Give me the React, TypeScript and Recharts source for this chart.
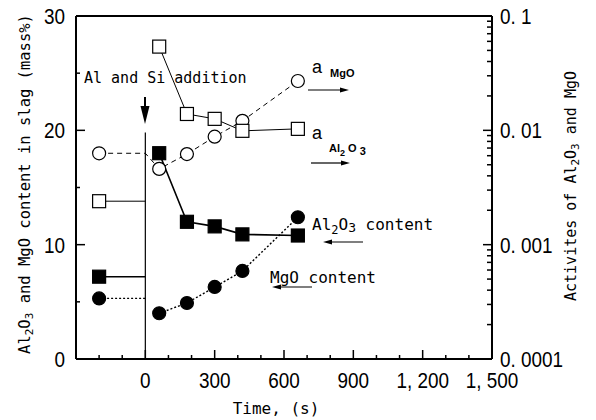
import { ComposedChart, Line, ReferenceLine, XAxis, YAxis } from "recharts"

// times after the Al + Si addition (s)
const times = [60, 180, 300, 420, 660]
const initialTime = -200
const additionTime = 0

// slag content, mass%
const al2o3ContentInitial = 7.2
const al2o3Content = [18.0, 12.0, 11.6, 10.9, 10.8]
const mgoContentInitial = 5.3
const mgoContent = [4.0, 4.9, 6.3, 7.7, 12.4]

// activities (log axis)
const aAl2O3Initial = 0.0024
const aAl2O3 = [0.054, 0.0139, 0.0126, 0.0099, 0.0103]
const aMgOInitial = 0.0063
const aMgO = [0.0046, 0.0062, 0.0088, 0.0121, 0.027]

const timeTicks = [-200, -100, 0, 100, 200, 300, 400, 500, 600, 700, 800, 900, 1000, 1100, 1200, 1300, 1400, 1500]
const timeLabels: Record<number, string> = {
  0: "0",
  300: "300",
  600: "600",
  900: "900",
  1200: "1, 200",
  1500: "1, 500",
}
const contentTicks = [0, 5, 10, 15, 20, 25, 30]
const contentLabels: Record<number, string> = { 0: "0", 10: "10", 20: "20", 30: "30" }
const activityTicks = [
  0.0001, 0.0002, 0.0003, 0.0004, 0.0005, 0.0006, 0.0007, 0.0008, 0.0009,
  0.001, 0.002, 0.003, 0.004, 0.005, 0.006, 0.007, 0.008, 0.009,
  0.01, 0.02, 0.03, 0.04, 0.05, 0.06, 0.07, 0.08, 0.09, 0.1,
]
const activityLabels: Record<string, string> = {
  "0.0001": "0. 0001",
  "0.001": "0. 001",
  "0.01": "0. 01",
  "0.1": "0. 1",
}

type Row = { t: number; v: number | null; bare?: boolean }

// initial value is held flat up to the addition, then the measured points follow
function buildRows(initial: number, values: number[], joined: boolean): Row[] {
  const rows: Row[] = [
    { t: initialTime, v: initial },
    { t: additionTime, v: initial, bare: true },
  ]
  if (!joined) rows.push({ t: additionTime, v: null })
  times.forEach((t, i) => rows.push({ t, v: values[i] }))
  return rows
}

const TICK_FONT = "'Liberation Sans', Arial, sans-serif"
const MONO = "'DejaVu Sans Mono', 'Liberation Mono', monospace"

// narrow tick numerals, like the condensed face of the original
function TickText({ x, y, anchor, children }: any) {
  return (
    <text
      transform={`translate(${x},${y}) scale(0.86,1)`}
      textAnchor={anchor}
      fontSize={22}
      fontFamily={TICK_FONT}
      fill="#000"
    >
      {children}
    </text>
  )
}

function TimeTick({ x, y, payload }: any) {
  const label = timeLabels[payload.value]
  const major = label !== undefined
  return (
    <g>
      <line x1={x} x2={x} y1={y} y2={y - (major ? 9 : 4)} stroke="#000" strokeWidth={1.5} />
      {major && (
        <TickText x={x} y={y + 29} anchor="middle">
          {label}
        </TickText>
      )}
    </g>
  )
}

function ContentTick({ x, y, payload }: any) {
  const label = contentLabels[payload.value]
  const major = label !== undefined
  return (
    <g>
      <line x1={x} x2={x + (major ? 9 : 4)} y1={y} y2={y} stroke="#000" strokeWidth={1.5} />
      {major && (
        <TickText x={x - 11} y={y + 8} anchor="end">
          {label}
        </TickText>
      )}
    </g>
  )
}

function ActivityTick({ x, y, payload }: any) {
  const label = activityLabels[String(payload.value)]
  const major = label !== undefined
  return (
    <g>
      <line x1={x} x2={x - (major ? 9 : 5)} y1={y} y2={y} stroke="#000" strokeWidth={1.5} />
      {major && (
        <TickText x={x + 8} y={y + 8} anchor="start">
          {label}
        </TickText>
      )}
    </g>
  )
}

function makeDot(shape: "square" | "circle", filled: boolean) {
  return (props: any) => {
    const { cx, cy, payload, index } = props
    const key = `${shape}-${filled}-${index}`
    if (cx == null || cy == null || payload?.bare || payload?.v == null) return <g key={key} />
    const fill = filled ? "#000" : "#fff"
    if (shape === "square") {
      return <rect key={key} x={cx - 6.5} y={cy - 6.5} width={13} height={13} fill={fill} stroke="#000" strokeWidth={1.2} />
    }
    return <circle key={key} cx={cx} cy={cy} r={6.5} fill={fill} stroke="#000" strokeWidth={1.2} />
  }
}

function Overlay() {
  return (
    <svg width={596} height={420} style={{ position: "absolute", left: 0, top: 0, pointerEvents: "none" }}>
      <g fontFamily={MONO} fill="#000">
        {/* left axis title */}
        <text transform="translate(25,184) rotate(-90)" textAnchor="middle" dominantBaseline="central" fontSize={15.5}>
          Al<tspan dy={4} fontSize={11}>2</tspan>
          <tspan dy={-4}>O</tspan>
          <tspan dy={4} fontSize={11}>3</tspan>
          <tspan dy={-4}> and MgO content in slag (mass%)</tspan>
        </text>
        {/* right axis title */}
        <text transform="translate(571,186) rotate(-90)" textAnchor="middle" dominantBaseline="central" fontSize={15}>
          Activites of Al<tspan dy={4} fontSize={11}>2</tspan>
          <tspan dy={-4}>O</tspan>
          <tspan dy={4} fontSize={11}>3</tspan>
          <tspan dy={-4}> and MgO</tspan>
        </text>
        <text x={276} y={414} textAnchor="middle" fontSize={16}>
          Time,  (s)
        </text>

        <text x={84} y={83} fontSize={15}>
          Al and Si addition
        </text>
        <line x1={145} x2={145} y1={97} y2={110} stroke="#000" strokeWidth={2} />
        <polygon points="140.5,106 149.5,106 145,124" fill="#000" />

        <text x={312} y={73} fontSize={18} fontFamily="'Liberation Sans', sans-serif">
          a
        </text>
        <text x={330} y={77} fontSize={11} fontWeight="bold" fontFamily="'Liberation Sans', sans-serif">
          MgO
        </text>
        <line x1={308} x2={342} y1={90} y2={90} stroke="#000" strokeWidth={1.2} />
        <polygon points="340,87.5 349,90 340,92.5" fill="#000" />

        <text x={312} y={139} fontSize={18} fontFamily="'Liberation Sans', sans-serif">
          a
        </text>
        <text x={329} y={152} fontSize={11} fontWeight="bold" fontFamily="'Liberation Sans', sans-serif">
          Al<tspan dy={4} fontSize={9}>2</tspan>
          <tspan dy={-4}> O</tspan>
          <tspan dy={3}> 3</tspan>
        </text>
        <line x1={311} x2={343} y1={163} y2={163} stroke="#000" strokeWidth={1.2} />
        <polygon points="341,160.5 350,163 341,165.5" fill="#000" />

        <text x={312} y={230} fontSize={16}>
          Al<tspan dy={4} fontSize={12}>2</tspan>
          <tspan dy={-4}>O</tspan>
          <tspan dy={2} fontSize={13}>3</tspan>
          <tspan dy={-2}> content</tspan>
        </text>
        <line x1={330} x2={363} y1={242} y2={242} stroke="#000" strokeWidth={1.2} />
        <polygon points="332,239.5 323,242 332,244.5" fill="#000" />

        <text x={270} y={283} fontSize={16}>
          MgO content
        </text>
        <line x1={279} x2={312} y1={287} y2={287} stroke="#000" strokeWidth={1.2} />
        <polygon points="281,284.5 272,287 281,289.5" fill="#000" />
      </g>
    </svg>
  )
}

export default function App() {
  return (
    <div style={{ position: "absolute", left: 0, top: 0, width: 596, height: 420, background: "#fff" }}>
      <ComposedChart width={596} height={420} margin={{ top: 16, right: 0, bottom: 0, left: 0 }}>
        <XAxis
          xAxisId="t"
          dataKey="t"
          type="number"
          domain={[-300, 1500]}
          ticks={timeTicks}
          allowDataOverflow
          height={61}
          tickSize={0}
          tickMargin={0}
          tickLine={false}
          axisLine={{ stroke: "#000", strokeWidth: 2 }}
          tick={<TimeTick />}
          interval={0}
        />
        <YAxis
          yAxisId="left"
          type="number"
          domain={[0, 30]}
          ticks={contentTicks}
          allowDataOverflow
          width={76}
          tickSize={0}
          tickMargin={0}
          tickLine={false}
          axisLine={{ stroke: "#000", strokeWidth: 2 }}
          tick={<ContentTick />}
          interval={0}
        />
        <YAxis
          yAxisId="right"
          orientation="right"
          type="number"
          scale="log"
          domain={[0.0001, 0.1]}
          ticks={activityTicks}
          allowDataOverflow
          width={104}
          tickSize={0}
          tickMargin={0}
          tickLine={false}
          axisLine={{ stroke: "#000", strokeWidth: 2 }}
          tick={<ActivityTick />}
          interval={0}
        />
        <ReferenceLine xAxisId="t" yAxisId="left" y={30} stroke="#000" strokeWidth={2} />
        <ReferenceLine
          xAxisId="t"
          yAxisId="left"
          segment={[
            { x: additionTime, y: 0 },
            { x: additionTime, y: 19.8 },
          ]}
          stroke="#000"
          strokeWidth={1.2}
        />

        <Line
          xAxisId="t"
          yAxisId="right"
          data={buildRows(aMgOInitial, aMgO, true)}
          dataKey="v"
          type="linear"
          stroke="#000"
          strokeWidth={1}
          strokeDasharray="5 4"
          dot={makeDot("circle", false)}
          activeDot={false}
          isAnimationActive={false}
        />
        <Line
          xAxisId="t"
          yAxisId="right"
          data={buildRows(aAl2O3Initial, aAl2O3, false)}
          dataKey="v"
          type="linear"
          stroke="#000"
          strokeWidth={1}
          dot={makeDot("square", false)}
          activeDot={false}
          isAnimationActive={false}
        />
        <Line
          xAxisId="t"
          yAxisId="left"
          data={buildRows(mgoContentInitial, mgoContent, false)}
          dataKey="v"
          type="linear"
          stroke="#000"
          strokeWidth={1.4}
          strokeDasharray="2 2"
          dot={makeDot("circle", true)}
          activeDot={false}
          isAnimationActive={false}
        />
        <Line
          xAxisId="t"
          yAxisId="left"
          data={buildRows(al2o3ContentInitial, al2o3Content, false)}
          dataKey="v"
          type="linear"
          stroke="#000"
          strokeWidth={1.6}
          dot={makeDot("square", true)}
          activeDot={false}
          isAnimationActive={false}
        />
      </ComposedChart>
      <Overlay />
    </div>
  )
}
